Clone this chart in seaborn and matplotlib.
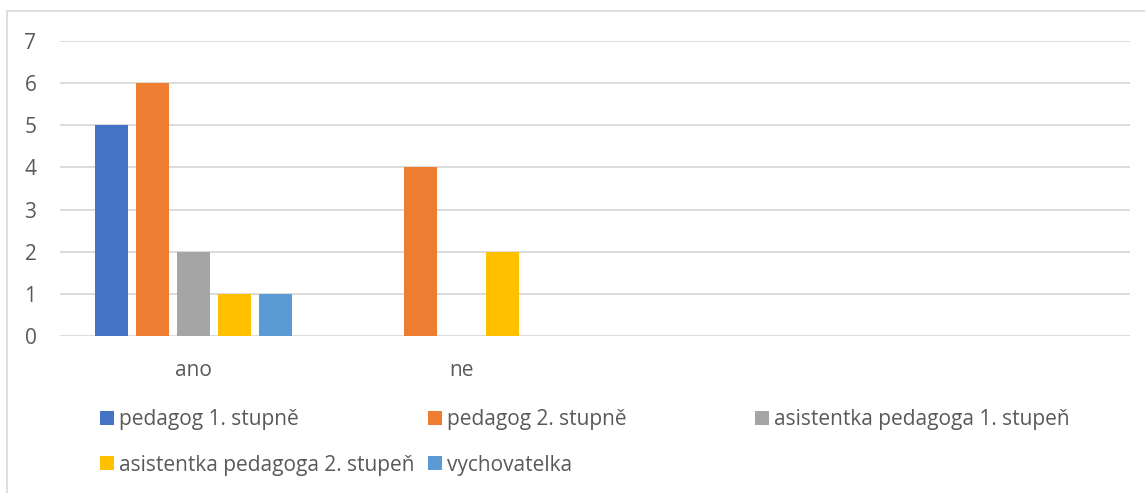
import pandas as pd
import seaborn as sns
from matplotlib import pyplot as plt
from matplotlib.patches import Patch, Rectangle

# data
categories = ["ano", "ne"]
groups = [
	"pedagog 1. stupně",
	"pedagog 2. stupně",
	"asistentka pedagoga 1. stupeň",
	"asistentka pedagoga 2. stupeň",
	"vychovatelka",
]
ano = [5, 6, 2, 1, 1]
ne = [0, 4, 0, 2, 0]
colors = ["#4472C4", "#ED7D31", "#A5A5A5", "#FFC000", "#5B9BD5"]
yticks = [0, 1, 2, 3, 4, 5, 6, 7]

df = pd.DataFrame({
	"odpoved" : ["ano"] * len(groups) + ["ne"] * len(groups),
	"skupina" : groups * 2,
	"pocet" : ano + ne,
})

sns.set_style("white")
plt.rcParams["font.family"] = ["Open Sans", "DejaVu Sans"]

fig = plt.figure(figsize = (11.45, 4.93), dpi = 100)
ax = fig.add_axes([60 / 1145, 1 - 336 / 493, 1070 / 1145, 295 / 493])

sns.barplot(data = df, x = "odpoved", y = "pocet", hue = "skupina",
	order = categories, hue_order = groups, palette = colors,
	saturation = 1, width = 0.766, gap = 0.2, linewidth = 0,
	legend = False, ax = ax)

ax.set_xlim(-0.5, 3.5)
ax.set_ylim(0, 7)
ax.set_yticks(yticks)
ax.set(xlabel = "", ylabel = "")
ax.set_axisbelow(True)
ax.yaxis.grid(True, color = "#d9d9d9", lw = 1.3)
ax.xaxis.grid(False)
for s in ax.spines.values():
	s.set_visible(False)
ax.tick_params(length = 0, pad = 17, labelsize = 15, labelcolor = "#595959")

# legend laid out like the excel one: three even columns, two rows
xs = [100 / 1145, 428 / 1145, 755 / 1145]
ys = [1 - 420 / 493, 1 - 465 / 493]
for i, (name, c) in enumerate(zip(groups, colors)):
	row, col = divmod(i, 3)
	fig.legend(handles = [Patch(facecolor = c, edgecolor = "none", label = name)],
		loc = "center left", bbox_to_anchor = (xs[col], ys[row]),
		frameon = False, fontsize = 15, labelcolor = "#595959",
		handlelength = 0.66, handleheight = 0.66, handletextpad = 0.27,
		borderpad = 0, borderaxespad = 0)

# light chart-area frame, cut off at right and bottom
fig.patches.append(Rectangle((7 / 1145, -0.1), 2, 1.1 - 11 / 493,
	transform = fig.transFigure, facecolor = "none", edgecolor = "#d9d9d9", lw = 1.2))

fig.savefig("out.png", dpi = 100)
